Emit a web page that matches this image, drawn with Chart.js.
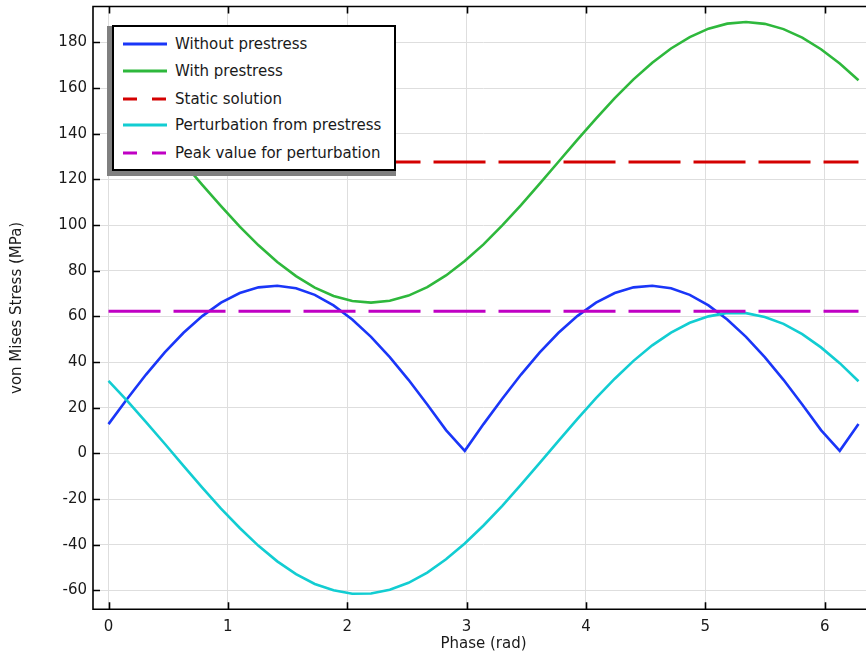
<!DOCTYPE html>
<html>
<head>
<meta charset="utf-8">
<script src="https://cdn.jsdelivr.net/npm/chart.js@4/dist/chart.umd.min.js"></script>
<style>
  html, body { margin: 0; padding: 0; overflow: hidden; background: #fff; }
  #wrap { position: relative; width: 880px; height: 654px; }
  #legendShadow { position: absolute; left: 107px; top: 26px; width: 289px; height: 150px; background: #808080; }
  #legend { position: absolute; left: 112px; top: 25px; width: 284px; height: 146px; box-sizing: border-box;
            border: 2px solid #000; background: #fff; }
  .row { position: absolute; left: 0; height: 18px; line-height: 18px; font-family: "DejaVu Sans", sans-serif;
         font-size: 15px; color: #1a1a1a; white-space: nowrap; }
  .row svg { position: absolute; left: 9px; top: 7px; }
  .row span { position: absolute; left: 61px; top: 0; }
</style>
</head>
<body>
<div id="wrap">
  <canvas id="c" width="880" height="654"></canvas>
  <div id="legendShadow"></div>
  <div id="legend"></div>
</div>
<script>
// ---- data ----
const phase = [0.0000, 0.1571, 0.3142, 0.4712, 0.6283, 0.7854, 0.9425, 1.0996, 1.2566, 1.4137,
               1.5708, 1.7279, 1.8850, 2.0420, 2.1991, 2.3562, 2.5133, 2.6704, 2.8274, 2.9845,
               3.1416, 3.2987, 3.4558, 3.6128, 3.7699, 3.9270, 4.0841, 4.2412, 4.3982, 4.5553,
               4.7124, 4.8695, 5.0265, 5.1836, 5.3407, 5.4978, 5.6549, 5.8119, 5.9690, 6.1261, 6.2832];
const withoutPrestress = [12.8, 23.9, 34.5, 44.2, 52.8, 60.1, 66.0, 70.2, 72.7, 73.4,
                          72.3, 69.4, 64.8, 58.6, 51.0, 42.1, 32.2, 21.4, 10.2, 1.1,
                          12.8, 23.9, 34.5, 44.2, 52.8, 60.1, 66.0, 70.2, 72.7, 73.4,
                          72.3, 69.4, 64.8, 58.6, 51.0, 42.1, 32.2, 21.4, 10.2, 1.1, 12.8];
const withPrestress = [163.4, 155.2, 146.2, 136.8, 127.2, 117.6, 108.3, 99.3, 91.1, 83.8,
                       77.6, 72.6, 68.9, 66.7, 66.0, 66.8, 69.1, 72.8, 77.9, 84.2,
                       91.5, 99.8, 108.7, 118.1, 127.7, 137.3, 146.6, 155.6, 163.8, 171.1,
                       177.3, 182.3, 186.0, 188.2, 188.9, 188.1, 185.8, 182.1, 177.0, 170.7, 163.4];
const perturbation = [31.7, 23.0, 13.7, 4.2, -5.5, -15.0, -24.2, -32.7, -40.5, -47.3,
                      -52.9, -57.2, -60.0, -61.5, -61.4, -59.7, -56.7, -52.2, -46.4, -39.5,
                      -31.6, -23.0, -13.7, -4.2, 5.5, 15.0, 24.2, 32.7, 40.5, 47.3,
                      52.9, 57.2, 60.0, 61.5, 61.4, 59.7, 56.7, 52.2, 46.4, 39.5, 31.6];
const linePhase = [0, 6.2832];
const staticSolution = [127.6, 127.6];
const peakPerturbation = [62.2, 62.2];
const seriesLabels = ["Without prestress", "With prestress", "Static solution",
                      "Perturbation from prestress", "Peak value for perturbation"];
const xTicks = [0, 1, 2, 3, 4, 5, 6];
const yTicks = [-60, -40, -20, 0, 20, 40, 60, 80, 100, 120, 140, 160, 180];

// ---- build chart ----
const pts = (xs, ys) => xs.map((x, i) => ({ x: x, y: ys[i] }));
const colors = ["#1a36f8", "#2eb83c", "#d40000", "#12cdd2", "#c000c4"];
const dashed = [false, false, true, false, true];
const seriesData = [pts(phase, withoutPrestress), pts(phase, withPrestress), pts(linePhase, staticSolution),
                    pts(phase, perturbation), pts(linePhase, peakPerturbation)];

const datasets = seriesLabels.map((lab, i) => ({
  label: lab,
  data: seriesData[i],
  borderColor: colors[i],
  backgroundColor: colors[i],
  borderWidth: dashed[i] ? 3 : 2.6,
  borderDash: dashed[i] ? [52, 13] : [],
  pointRadius: 0,
  tension: 0,
  fill: false,
  order: 5 - i
}));

const FONT = "'DejaVu Sans', sans-serif";
const TXT = "#1a1a1a";

const framePlugin = {
  id: 'frame',
  afterDraw(chart) {
    const { ctx, chartArea: a } = chart;
    const xs = chart.scales.x, ys = chart.scales.y;
    ctx.save();
    ctx.strokeStyle = '#000';
    ctx.lineWidth = 1.6;
    ctx.beginPath();
    ctx.rect(a.left, a.top, a.right - a.left, a.bottom - a.top);
    ctx.stroke();
    ctx.beginPath();
    xTicks.forEach(v => {
      const p = Math.round(xs.getPixelForValue(v)) + 0.5;
      ctx.moveTo(p, a.bottom); ctx.lineTo(p, a.bottom - 7);
      ctx.moveTo(p, a.top); ctx.lineTo(p, a.top + 7);
    });
    yTicks.forEach(v => {
      const p = Math.round(ys.getPixelForValue(v)) + 0.5;
      ctx.moveTo(a.left, p); ctx.lineTo(a.left + 7, p);
      ctx.moveTo(a.right, p); ctx.lineTo(a.right - 7, p);
    });
    ctx.stroke();
    ctx.restore();
  }
};

new Chart(document.getElementById('c'), {
  type: 'line',
  data: { datasets: datasets },
  options: {
    responsive: false,
    animation: false,
    layout: { padding: { left: 0, top: 6.5, right: 6, bottom: 0 } },
    plugins: { legend: { display: false }, tooltip: { enabled: false } },
    scales: {
      x: {
        type: 'linear',
        min: -0.13, max: 6.413,
        afterFit: s => { s.height = 44.7; s.paddingLeft = 0; s.paddingRight = 0; },
        afterBuildTicks: s => { s.ticks = xTicks.map(v => ({ value: v })); },
        ticks: { font: { family: FONT, size: 15 }, color: TXT, padding: 9, maxRotation: 0 },
        grid: { color: '#dedede', lineWidth: 1, drawTicks: false },
        border: { display: false },
        title: { display: true, text: 'Phase (rad)', font: { family: FONT, size: 15 }, color: TXT,
                 padding: { top: 0, bottom: 0.5 } }
      },
      y: {
        type: 'linear',
        min: -68.3, max: 195.7,
        afterFit: s => { s.width = 93; s.paddingTop = 0; s.paddingBottom = 0; },
        afterBuildTicks: s => { s.ticks = yTicks.map(v => ({ value: v })); },
        ticks: { font: { family: FONT, size: 15 }, color: TXT, padding: 6 },
        grid: { color: '#dedede', lineWidth: 1, drawTicks: false },
        border: { display: false },
        title: { display: true, text: 'von Mises Stress (MPa)', font: { family: FONT, size: 15 }, color: TXT,
                 padding: { top: 8, bottom: 0 } }
      }
    }
  },
  plugins: [framePlugin]
});

// ---- HTML legend built from the same series ----
const rowCenters = [17.3, 44.0, 71.7, 98.3, 125.7];
const legend = document.getElementById('legend');
seriesLabels.forEach((lab, i) => {
  const row = document.createElement('div');
  row.className = 'row';
  row.style.top = (rowCenters[i] - 9) + 'px';
  row.style.width = '100%';
  const dash = dashed[i] ? ' stroke-dasharray="14 15"' : '';
  row.innerHTML = '<svg width="44" height="4"><line x1="0" y1="2" x2="44" y2="2" stroke="' + colors[i] +
                  '" stroke-width="3"' + dash + '/></svg><span>' + lab + '</span>';
  legend.appendChild(row);
});
</script>
</body>
</html>
